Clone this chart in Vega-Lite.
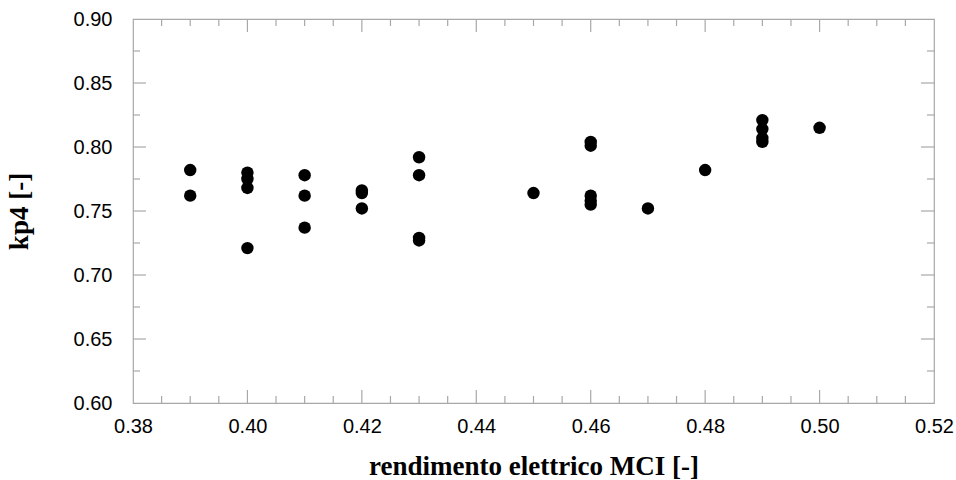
{
  "$schema": "https://vega.github.io/schema/vega-lite/v6.json",
  "width": 801,
  "height": 384,
  "autosize": "none",
  "padding": {"left": 133, "top": 19, "right": 22, "bottom": 77},
  "background": "white",
  "config": {
    "view": {"stroke": "#a8a8a8", "strokeWidth": 1.2},
    "axis": {"grid": false, "domain": false, "ticks": false}
  },
  "datasets": {
    "points": [
      {"eta": 0.39, "kp4": 0.782}, {"eta": 0.39, "kp4": 0.762},
      {"eta": 0.40, "kp4": 0.780}, {"eta": 0.40, "kp4": 0.775}, {"eta": 0.40, "kp4": 0.768}, {"eta": 0.40, "kp4": 0.721},
      {"eta": 0.41, "kp4": 0.778}, {"eta": 0.41, "kp4": 0.762}, {"eta": 0.41, "kp4": 0.737},
      {"eta": 0.42, "kp4": 0.766}, {"eta": 0.42, "kp4": 0.764}, {"eta": 0.42, "kp4": 0.752},
      {"eta": 0.43, "kp4": 0.792}, {"eta": 0.43, "kp4": 0.778}, {"eta": 0.43, "kp4": 0.729}, {"eta": 0.43, "kp4": 0.727},
      {"eta": 0.45, "kp4": 0.764},
      {"eta": 0.46, "kp4": 0.804}, {"eta": 0.46, "kp4": 0.801}, {"eta": 0.46, "kp4": 0.762}, {"eta": 0.46, "kp4": 0.758}, {"eta": 0.46, "kp4": 0.755},
      {"eta": 0.47, "kp4": 0.752},
      {"eta": 0.48, "kp4": 0.782},
      {"eta": 0.49, "kp4": 0.821}, {"eta": 0.49, "kp4": 0.814}, {"eta": 0.49, "kp4": 0.807}, {"eta": 0.49, "kp4": 0.804},
      {"eta": 0.50, "kp4": 0.815}
    ],
    "xmajor": [{"v": 0.40}, {"v": 0.42}, {"v": 0.44}, {"v": 0.46}, {"v": 0.48}, {"v": 0.50}],
    "xminor": [{"v": 0.385}, {"v": 0.39}, {"v": 0.395}, {"v": 0.405}, {"v": 0.41}, {"v": 0.415}, {"v": 0.425}, {"v": 0.43}, {"v": 0.435}, {"v": 0.445}, {"v": 0.45}, {"v": 0.455}, {"v": 0.465}, {"v": 0.47}, {"v": 0.475}, {"v": 0.485}, {"v": 0.49}, {"v": 0.495}, {"v": 0.505}, {"v": 0.51}, {"v": 0.515}],
    "ymajor": [{"v": 0.65}, {"v": 0.70}, {"v": 0.75}, {"v": 0.80}, {"v": 0.85}],
    "yminor": [{"v": 0.625}, {"v": 0.675}, {"v": 0.725}, {"v": 0.775}, {"v": 0.825}, {"v": 0.875}]
  },
  "layer": [
    {
      "data": {"name": "xmajor"},
      "mark": {"type": "rule", "color": "#a8a8a8", "strokeWidth": 1.2, "y2Offset": -13},
      "encoding": {"x": {"field": "v", "type": "quantitative"}, "y": {"datum": 0.60, "type": "quantitative"}, "y2": {"datum": 0.60}}
    },
    {
      "data": {"name": "xminor"},
      "mark": {"type": "rule", "color": "#a8a8a8", "strokeWidth": 1.2, "y2Offset": -7},
      "encoding": {"x": {"field": "v", "type": "quantitative"}, "y": {"datum": 0.60, "type": "quantitative"}, "y2": {"datum": 0.60}}
    },
    {
      "data": {"name": "xmajor"},
      "mark": {"type": "rule", "color": "#a8a8a8", "strokeWidth": 1.2, "y2Offset": 13},
      "encoding": {"x": {"field": "v", "type": "quantitative"}, "y": {"datum": 0.90, "type": "quantitative"}, "y2": {"datum": 0.90}}
    },
    {
      "data": {"name": "xminor"},
      "mark": {"type": "rule", "color": "#a8a8a8", "strokeWidth": 1.2, "y2Offset": 7},
      "encoding": {"x": {"field": "v", "type": "quantitative"}, "y": {"datum": 0.90, "type": "quantitative"}, "y2": {"datum": 0.90}}
    },
    {
      "data": {"name": "ymajor"},
      "mark": {"type": "rule", "color": "#a8a8a8", "strokeWidth": 1.2, "x2Offset": 13},
      "encoding": {"y": {"field": "v", "type": "quantitative"}, "x": {"datum": 0.38, "type": "quantitative"}, "x2": {"datum": 0.38}}
    },
    {
      "data": {"name": "yminor"},
      "mark": {"type": "rule", "color": "#a8a8a8", "strokeWidth": 1.2, "x2Offset": 7},
      "encoding": {"y": {"field": "v", "type": "quantitative"}, "x": {"datum": 0.38, "type": "quantitative"}, "x2": {"datum": 0.38}}
    },
    {
      "data": {"name": "ymajor"},
      "mark": {"type": "rule", "color": "#a8a8a8", "strokeWidth": 1.2, "x2Offset": -13},
      "encoding": {"y": {"field": "v", "type": "quantitative"}, "x": {"datum": 0.52, "type": "quantitative"}, "x2": {"datum": 0.52}}
    },
    {
      "data": {"name": "yminor"},
      "mark": {"type": "rule", "color": "#a8a8a8", "strokeWidth": 1.2, "x2Offset": -7},
      "encoding": {"y": {"field": "v", "type": "quantitative"}, "x": {"datum": 0.52, "type": "quantitative"}, "x2": {"datum": 0.52}}
    },
    {
      "data": {"name": "points"},
      "mark": {"type": "circle", "size": 155, "color": "black", "opacity": 1},
      "encoding": {
        "x": {"field": "eta", "type": "quantitative", "scale": {"domain": [0.38, 0.52], "nice": false, "zero": false},
          "axis": {"orient": "bottom", "labelPadding": 13, "format": ".2f",
            "values": [0.38, 0.40, 0.42, 0.44, 0.46, 0.48, 0.50, 0.52],
            "labelFont": "Liberation Sans", "labelFontSize": 20, "labelColor": "black", "labelFlush": false,
            "title": "rendimento elettrico MCI [-]", "titleFont": "Liberation Serif", "titleFontSize": 27, "titleFontWeight": "bold", "titleColor": "black", "titlePadding": 17}},
        "y": {"field": "kp4", "type": "quantitative", "scale": {"domain": [0.60, 0.90], "nice": false, "zero": false},
          "axis": {"orient": "left", "labelPadding": 21, "format": ".2f",
            "values": [0.60, 0.65, 0.70, 0.75, 0.80, 0.85, 0.90],
            "labelFont": "Liberation Sans", "labelFontSize": 20, "labelColor": "black", "labelFlush": false,
            "title": "kp4 [-]", "titleFont": "Liberation Serif", "titleFontSize": 27, "titleFontWeight": "bold", "titleColor": "black", "titlePadding": 40}}
      }
    }
  ]
}
